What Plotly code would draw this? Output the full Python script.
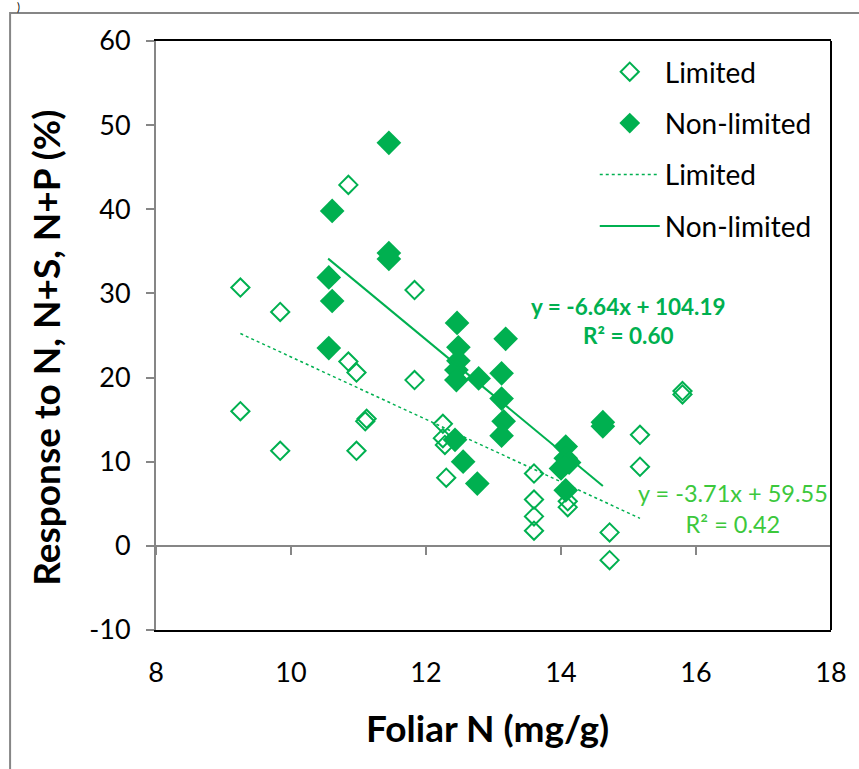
import plotly.graph_objects as go

# Foliar N (mg/g) and response (%) for plots classed as N-limited
limited_x = [9.25, 9.25, 9.84, 9.84, 10.85, 10.85, 10.97, 10.97, 11.10, 11.12,
             11.83, 11.83, 12.25, 12.25, 12.28, 12.30, 13.60, 13.60, 13.60, 13.60,
             14.10, 14.10, 14.72, 14.72, 15.17, 15.17, 15.80, 15.80]
limited_y = [30.7, 16.0, 27.8, 11.3, 42.9, 21.9, 20.6, 11.3, 14.8, 15.1,
             30.4, 19.7, 14.5, 12.8, 12.0, 8.1, 8.6, 5.5, 3.5, 1.8,
             5.3, 4.6, 1.6, -1.7, 13.2, 9.4, 18.4, 18.0]

# ... and for plots classed as non-limited
nonlim_x = [11.45, 10.61, 11.45, 11.45, 10.56, 10.61, 10.56, 12.46, 12.48, 12.48,
            12.45, 12.45, 12.78, 13.18, 13.12, 13.12, 13.15, 13.12, 12.43, 12.55,
            12.76, 14.62, 14.62, 14.07, 14.07, 14.00, 14.12, 14.07]
nonlim_y = [47.9, 39.8, 34.8, 34.1, 31.9, 29.1, 23.5, 26.5, 23.6, 22.0,
            20.9, 19.7, 19.9, 24.6, 20.5, 17.5, 14.8, 13.1, 12.6, 10.0,
            7.4, 14.7, 14.2, 11.8, 10.4, 9.2, 9.9, 6.6]

# Linear fits (slope, intercept, R²) and the x span each fit line covers
fit_limited = (-3.71, 59.55, 0.42)
fit_nonlim = (-6.64, 104.19, 0.60)
span_limited = [9.25, 15.17]
span_nonlim = [10.55, 14.62]

x_ticks = [8, 10, 12, 14, 16, 18]
y_ticks = [-10, 0, 10, 20, 30, 40, 50, 60]

GREEN = "#00B050"
LIGHT_GREEN = "#3CC83C"
GRAY = "#868686"
FONT = "Lato"

# canvas and plot-area geometry (pixels)
W, H = 859, 769
L, R, T, B = 156, 836, 41, 630


def px_x(p):
    return (p - L) / (R - L)


def px_y(p):
    return (B - p) / (B - T)


def fit_line(fit, span):
    m, c, _ = fit
    return span, [m * v + c for v in span]


def fit_label(fit, bold):
    m, c, r2 = fit
    sign = "+" if c >= 0 else "-"
    eq = f"y = {m:.2f}x {sign} {abs(c):.2f}"
    r = f"R² = {r2:.2f}"
    if bold:
        return f"<b>{eq}</b><br><b>{r}</b>"
    return f"{eq}<br>{r}"


fig = go.Figure()

fig.add_trace(go.Scatter(
    x=limited_x, y=limited_y, mode="markers", name="Limited",
    legendgroup="a",
    marker=dict(symbol="diamond-open", size=14, color=GREEN,
                line=dict(width=2, color=GREEN)),
))
fig.add_trace(go.Scatter(
    x=nonlim_x, y=nonlim_y, mode="markers", name="Non-limited",
    legendgroup="b",
    marker=dict(symbol="diamond", size=19, color=GREEN,
                line=dict(width=0)),
))
lx, ly = fit_line(fit_limited, span_limited)
fig.add_trace(go.Scatter(
    x=lx, y=ly, mode="lines", name="Limited", legendgroup="c",
    line=dict(color=GREEN, width=1.5, dash="dot"),
))
nx, ny = fit_line(fit_nonlim, span_nonlim)
fig.add_trace(go.Scatter(
    x=nx, y=ny, mode="lines", name="Non-limited", legendgroup="d",
    line=dict(color=GREEN, width=2),
))
# carrier for the horizontal axis drawn through y = 0
fig.add_trace(go.Scatter(x=[], y=[], xaxis="x2", yaxis="y",
                         showlegend=False, hoverinfo="skip"))

fig.update_layout(
    width=W, height=H,
    margin=dict(l=L, r=W - R, t=T, b=H - B),
    paper_bgcolor="white", plot_bgcolor="white",
    font=dict(family=FONT, color="black"),
    showlegend=True,
    legend=dict(
        x=px_x(598), y=px_y(47), xanchor="left", yanchor="top",
        font=dict(family=FONT, size=28, color="black"),
        bgcolor="rgba(0,0,0,0)", borderwidth=0,
        traceorder="grouped", tracegroupgap=12, itemwidth=60,
    ),
    xaxis=dict(
        range=[8, 18], tickvals=x_ticks, ticktext=[str(v) for v in x_ticks],
        showgrid=False, zeroline=False,
        showline=True, linecolor="black", linewidth=2, mirror=True,
        ticks="", tickfont=dict(family=FONT, size=27, color="black"),
        ticklabelstandoff=18,
    ),
    xaxis2=dict(
        matches="x", overlaying="x", anchor="free", position=1 / 7,
        range=[8, 18], tickvals=x_ticks, showticklabels=False,
        showgrid=False, zeroline=False,
        showline=True, linecolor=GRAY, linewidth=2,
        ticks="outside", ticklen=8, tickwidth=2, tickcolor=GRAY,
    ),
    yaxis=dict(
        range=[-10, 60], tickvals=y_ticks, ticktext=[str(v) for v in y_ticks],
        showgrid=False, zeroline=False,
        showline=True, linecolor=GRAY, linewidth=2,
        ticks="outside", ticklen=8, tickwidth=2, tickcolor=GRAY,
        tickfont=dict(family=FONT, size=27, color="black"),
        ticklabelstandoff=10,
    ),
)

shapes = [
    # right edge of the plot frame
    dict(type="line", xref="paper", yref="paper", x0=1, x1=1, y0=0, y1=1,
         line=dict(color="black", width=2)),
    # outer chart border
    dict(type="rect", xref="paper", yref="paper",
         x0=px_x(9), x1=px_x(880), y0=px_y(790), y1=px_y(13),
         line=dict(color=GRAY, width=2), layer="below"),
]
fig.update_layout(shapes=shapes)

annotations = [
    dict(text=fit_label(fit_nonlim, True), xref="paper", yref="paper",
         x=px_x(632), y=px_y(321), xanchor="center", yanchor="middle",
         align="center", showarrow=False,
         font=dict(family=FONT, size=22.5, color=GREEN)),
    dict(text=fit_label(fit_limited, False), xref="paper", yref="paper",
         x=px_x(737), y=px_y(508), xanchor="center", yanchor="middle",
         align="center", showarrow=False,
         font=dict(family=FONT, size=23.5, color=LIGHT_GREEN)),
    dict(text="<b>Foliar N (mg/g)</b>", xref="paper", yref="paper",
         x=px_x(490), y=px_y(727), xanchor="center", yanchor="middle",
         showarrow=False, font=dict(family=FONT, size=37, color="black")),
    dict(text="<b>Response to N, N+S, N+P (%)</b>", xref="paper", yref="paper",
         x=px_x(45), y=px_y(348), xanchor="center", yanchor="middle",
         textangle=-90, showarrow=False,
         font=dict(family=FONT, size=37, color="black")),
    dict(text=")", xref="paper", yref="paper",
         x=px_x(17), y=px_y(6), xanchor="center", yanchor="middle",
         showarrow=False, font=dict(family=FONT, size=11, color="black")),
]
fig.update_layout(annotations=annotations)

fig.write_html("out.html")
